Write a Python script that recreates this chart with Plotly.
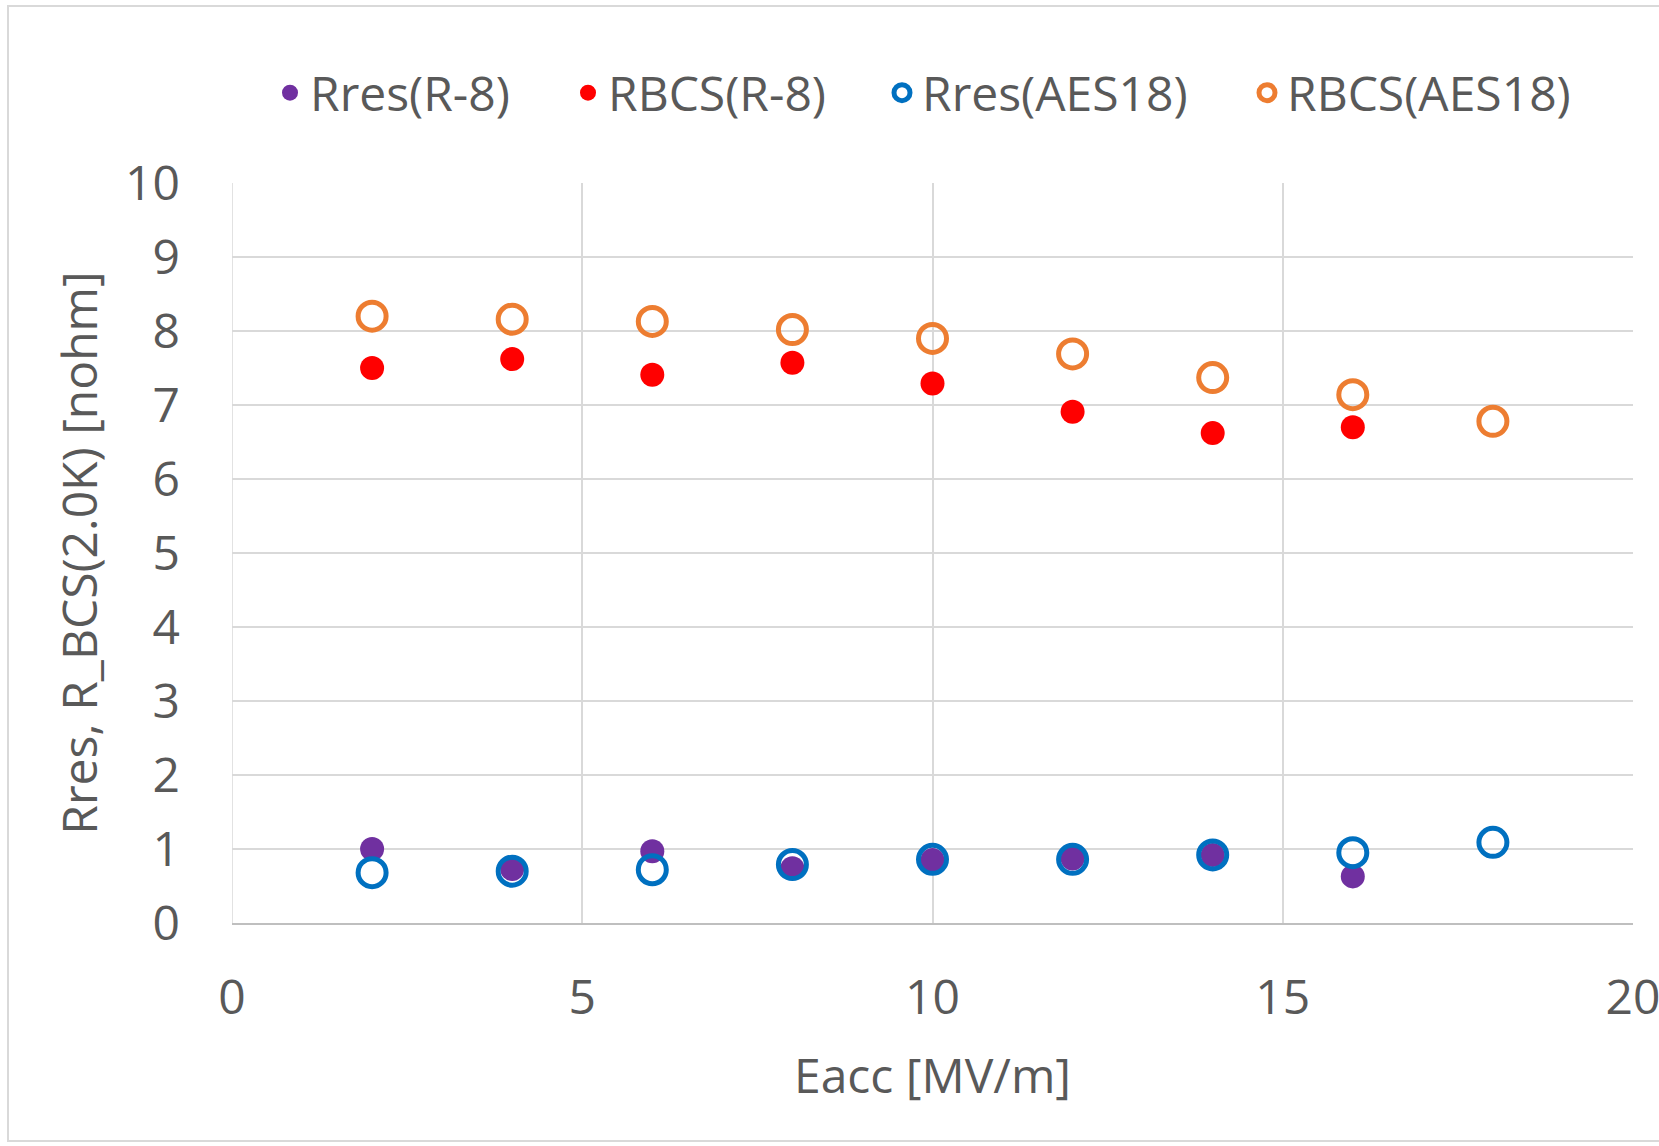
import plotly.graph_objects as go

eacc = [2, 4, 6, 8, 10, 12, 14, 16]
eacc_aes = [2, 4, 6, 8, 10, 12, 14, 16, 18]
rres_r8 = [1.00, 0.73, 0.97, 0.74, 0.85, 0.87, 0.92, 0.63]
rbcs_r8 = [7.50, 7.62, 7.41, 7.57, 7.29, 6.91, 6.62, 6.70]
rres_aes = [0.68, 0.70, 0.72, 0.79, 0.86, 0.86, 0.92, 0.95, 1.09]
rbcs_aes = [8.20, 8.16, 8.13, 8.02, 7.90, 7.69, 7.37, 7.14, 6.78]

series_names = ["Rres(R-8)", "RBCS(R-8)", "Rres(AES18)", "RBCS(AES18)"]
x_ticks = [0, 5, 10, 15, 20]
y_ticks = list(range(0, 11))

FONT = "Open Sans"
TXT = "#595959"
GRID = "#d9d9d9"

L, R, T, B = 232, 26, 183, 223
W, H = 1659, 1146
pw, ph = W - L - R, H - T - B

# legend marker centres (px) in the reference
leg_px = [291, 589, 903, 1268]
leg_names = ["legend", "legend2", "legend3", "legend4"]

fig = go.Figure()
fig.add_trace(go.Scatter(x=eacc, y=rres_r8, mode="markers", name=series_names[0], legend="legend",
                         marker=dict(symbol="circle", size=24, color="#7030A0")))
fig.add_trace(go.Scatter(x=eacc, y=rbcs_r8, mode="markers", name=series_names[1], legend="legend2",
                         marker=dict(symbol="circle", size=24, color="#FF0000")))
fig.add_trace(go.Scatter(x=eacc_aes, y=rres_aes, mode="markers", name=series_names[2], legend="legend3",
                         marker=dict(symbol="circle-open", size=28, color="#0070C0",
                                     line=dict(width=5, color="#0070C0"))))
fig.add_trace(go.Scatter(x=eacc_aes, y=rbcs_aes, mode="markers", name=series_names[3], legend="legend4",
                         marker=dict(symbol="circle-open", size=28, color="#ED7D31",
                                     line=dict(width=5, color="#ED7D31"))))

legends = {}
for ln, px in zip(leg_names, leg_px):
    legends[ln] = dict(orientation="h", x=(px - 21 - L) / pw, xanchor="left",
                       y=(T + ph - 93) / ph, yanchor="middle",
                       font=dict(size=48, color=TXT, family=FONT), itemsizing="trace",
                       bgcolor="rgba(0,0,0,0)", borderwidth=0)

fig.update_layout(
    width=W, height=H,
    margin=dict(l=L, r=R, t=T, b=B, pad=0, autoexpand=False),
    paper_bgcolor="white", plot_bgcolor="white",
    font=dict(family=FONT, size=48, color=TXT),
    showlegend=True,
    **legends,
    xaxis=dict(range=[0, 20], tickvals=x_ticks, ticktext=[str(v) for v in x_ticks],
               showgrid=True, gridcolor=GRID, gridwidth=1.5, automargin=False,
               zeroline=False, showline=True, linecolor="#bfbfbf", linewidth=1.5,
               mirror=False, ticks="", ticklabelstandoff=32, ticklabeloverflow="allow",
               tickfont=dict(size=48, color=TXT),
               title=dict(text="Eacc [MV/m]", font=dict(size=48, color=TXT), standoff=32)),
    yaxis=dict(range=[0, 10], tickvals=y_ticks, ticktext=[str(v) for v in y_ticks],
               showgrid=True, gridcolor=GRID, gridwidth=1.5, automargin=False,
               zeroline=False, showline=False, ticks="", ticklabelstandoff=51,
               tickfont=dict(size=48, color=TXT),
               title=dict(text="Rres, R_BCS(2.0K) [nohm]", font=dict(size=48, color=TXT), standoff=12)),
    shapes=[
        dict(type="rect", xref="paper", yref="paper",
             x0=(8 - L) / pw, x1=(1700 - L) / pw,
             y0=(T + ph - 1141) / ph, y1=(T + ph - 6) / ph,
             line=dict(color=GRID, width=2), fillcolor="rgba(0,0,0,0)", layer="below"),
        dict(type="line", xref="x", yref="y", x0=0, x1=0, y0=0, y1=10,
             line=dict(color=GRID, width=1.5), layer="below"),
    ],
)

fig.write_html("out.html")
